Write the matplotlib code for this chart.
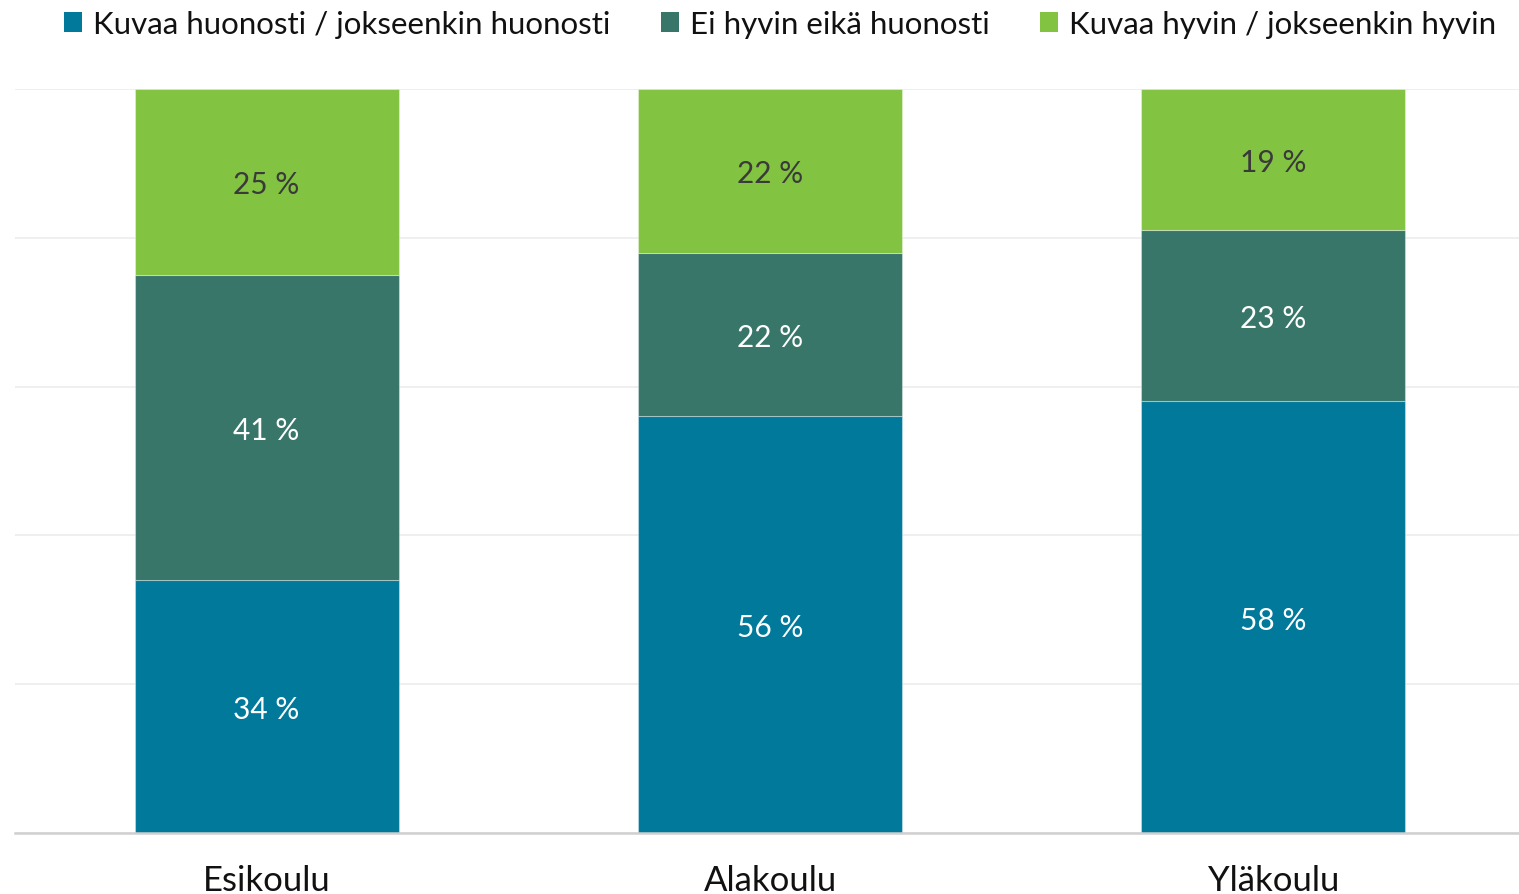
import matplotlib
matplotlib.use("Agg")
import matplotlib.pyplot as plt
import numpy as np
from matplotlib.patches import Patch

plt.rcParams['font.family'] = ['Lato', 'DejaVu Sans']

categories = ["Esikoulu", "Alakoulu", "Yläkoulu"]
series_names = ["Kuvaa huonosti / jokseenkin huonosti", "Ei hyvin eikä huonosti", "Kuvaa hyvin / jokseenkin hyvin"]
huonosti = [34, 56, 58]
neutraali = [41, 22, 23]
hyvin = [25, 22, 19]
colors = ["#00799A", "#38766A", "#82C341"]
label_colors = ["white", "white", "#3a3a3a"]

W, H = 1519, 895
fig = plt.figure(figsize=(W / 100, H / 100), dpi=100)
ax = fig.add_axes([15 / W, (H - 834) / H, 1504 / W, (834 - 90) / H])

x = np.arange(len(categories))
width = 0.525
bottom = np.zeros(len(categories))
for vals, col, lc in zip([huonosti, neutraali, hyvin], colors, label_colors):
    vals = np.array(vals, dtype=float)
    ax.bar(x, vals, width, bottom=bottom, color=col, edgecolor=(1, 1, 1, 0.35), linewidth=0.8, zorder=3)
    for xi, b, v in zip(x, bottom, vals):
        ax.text(xi, b + v / 2, f"{int(v)} %", ha='center', va='center_baseline', color=lc, fontsize=21.5, zorder=4)
    bottom += vals

ax.set_xlim(-0.5, 2.488)
ax.set_ylim(0, 100)
ax.set_yticks([0, 20, 40, 60, 80, 100])
ax.yaxis.grid(True, color="#ececec", linewidth=1.2, zorder=0)
ax.tick_params(axis='y', left=False, labelleft=False)
ax.set_xticks(x)
ax.set_xticklabels(categories, fontsize=25, color="#111111")
ax.tick_params(axis='x', length=0, pad=22)
for s in ['top', 'right', 'left']:
    ax.spines[s].set_visible(False)
ax.spines['bottom'].set_color("#d0d0d0")
ax.spines['bottom'].set_linewidth(1.8)
ax.spines['bottom'].set_zorder(5)

handles = [Patch(facecolor=c, edgecolor='none') for c in colors]
fig.legend(handles, series_names, loc='center', bbox_to_anchor=(780 / W, 1 - 25 / H), ncol=3,
           frameon=False, fontsize=22.5, handlelength=0.58, handleheight=0.58, handletextpad=0.35,
           columnspacing=1.6, labelcolor="#111111")

fig.savefig("out.png", dpi=100)
